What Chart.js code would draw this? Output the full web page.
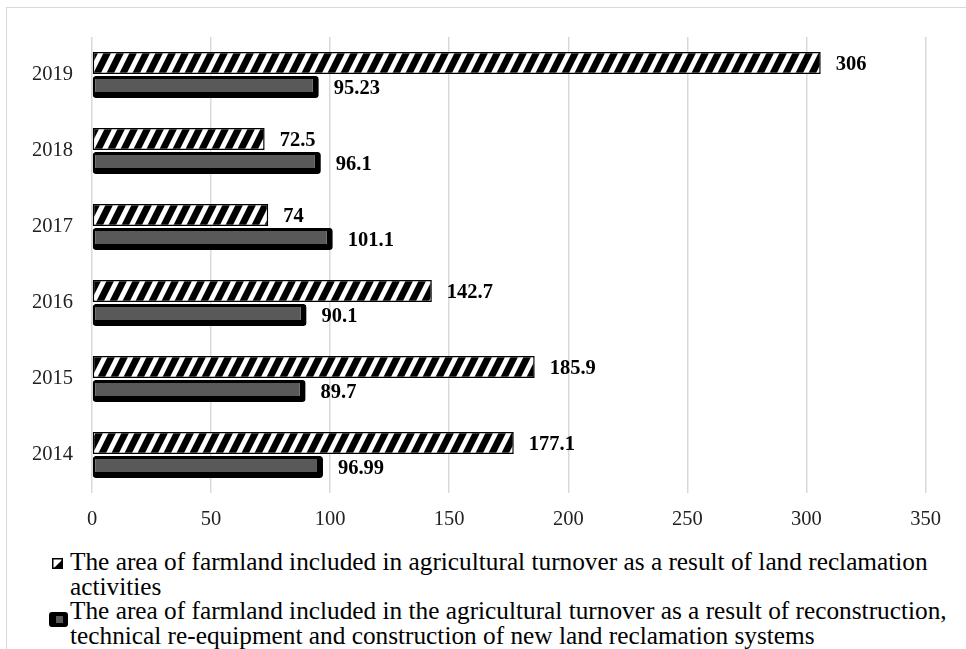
<!DOCTYPE html>
<html>
<head>
<meta charset="utf-8">
<script src="https://cdn.jsdelivr.net/npm/chart.js@4"></script>
<style>
  html, body { margin: 0; padding: 0; background: #fff; width: 966px; height: 649px; overflow: hidden; }
  #frame { position: absolute; left: 6px; top: 7px; width: 1000px; height: 700px; border: 1.5px solid #d9d9d9; box-sizing: border-box; }
  #wrap { position: absolute; left: 0; top: 0; width: 966px; height: 545px; }
  #legend { position: absolute; left: 0; top: 549px; width: 962px; font-family: "Liberation Serif", "Times New Roman", serif; font-size: 25.3px; line-height: 24.5px; color: #000; }
  .item { position: relative; padding-left: 70px; }
  .icon { position: absolute; }
  .dark-icon { background: #000; border-radius: 3px; }
  .dark-icon div { position: absolute; background: #595959; }
</style>
</head>
<body>
<div id="frame"></div>
<div id="wrap"><canvas id="chart" width="966" height="545"></canvas></div>
<div id="legend"></div>
<script>
// Years shown on the category axis, top to bottom
const years = ['2019', '2018', '2017', '2016', '2015', '2014'];
// Farmland brought into use by land reclamation activities
const reclamationArea = [306, 72.5, 74, 142.7, 185.9, 177.1];
// Farmland brought into use by reconstruction / re-equipment / new systems
const reconstructionArea = [95.23, 96.1, 101.1, 90.1, 89.7, 96.99];
// Value axis ticks
const axisTicks = [0, 50, 100, 150, 200, 250, 300, 350];
const seriesNames = [
  'The area of farmland included in agricultural turnover as a result of land reclamation activities',
  'The area of farmland included in the agricultural turnover as a result of reconstruction, technical re-equipment and construction of new land reclamation systems'
];

const SERIF = '"Liberation Serif", "Times New Roman", serif';
const canvas = document.getElementById('chart');
const ctx = canvas.getContext('2d');

// Diagonal black/white hatch fill
function makeHatchTile() {
  const w = 13, h = 26, sw = 7.5;
  const c = document.createElement('canvas');
  c.width = w; c.height = h;
  const g = c.getContext('2d');
  g.fillStyle = '#fff';
  g.fillRect(0, 0, w, h);
  g.fillStyle = '#000';
  for (let k = -1; k <= 1; k++) {
    const o = k * w;
    g.beginPath();
    g.moveTo(o, h);
    g.lineTo(o + sw, h);
    g.lineTo(o + sw + w, 0);
    g.lineTo(o + w, 0);
    g.closePath();
    g.fill();
  }
  return c;
}
const hatch = ctx.createPattern(makeHatchTile(), 'repeat');

// Bold value printed just past the end of each bar
const valueLabels = {
  id: 'valueLabels',
  afterDatasetsDraw(chart) {
    const c = chart.ctx;
    c.save();
    c.font = 'bold 20.5px ' + SERIF;
    c.fillStyle = '#000';
    c.textAlign = 'left';
    c.textBaseline = 'middle';
    chart.data.datasets.forEach((ds, i) => {
      chart.getDatasetMeta(i).data.forEach((el, j) => {
        c.fillText(String(ds.data[j]), el.x + 15, el.y + 1.5);
      });
    });
    c.restore();
  }
};

new Chart(ctx, {
  type: 'bar',
  data: {
    labels: years,
    datasets: [
      {
        label: seriesNames[0],
        data: reclamationArea,
        backgroundColor: hatch,
        borderColor: '#000',
        borderWidth: 1.5,
        borderSkipped: false,
        barPercentage: 0.92,
        categoryPercentage: 0.63
      },
      {
        label: seriesNames[1],
        data: reconstructionArea,
        backgroundColor: '#595959',
        borderColor: '#000',
        borderWidth: { top: 3, left: 2.5, right: 6, bottom: 6 },
        borderSkipped: false,
        borderRadius: 3,
        barPercentage: 0.92,
        categoryPercentage: 0.63
      }
    ]
  },
  options: {
    indexAxis: 'y',
    responsive: false,
    animation: false,
    layout: { padding: { top: 37, right: 40.5, left: 0, bottom: 0 } },
    plugins: { legend: { display: false }, tooltip: { enabled: false } },
    scales: {
      x: {
        min: axisTicks[0],
        max: axisTicks[axisTicks.length - 1],
        afterBuildTicks(scale) { scale.ticks = axisTicks.map(v => ({ value: v })); },
        ticks: { font: { family: SERIF, size: 20.5 }, color: '#222', padding: 14 },
        grid: { color: '#d9d9d9', lineWidth: 1.5, drawTicks: false },
        border: { display: false },
        afterFit(scale) { scale.height = 52; }
      },
      y: {
        ticks: { font: { family: SERIF, size: 20.5 }, color: '#222', padding: 19 },
        grid: { display: false, drawTicks: false },
        border: { display: false },
        afterFit(scale) { scale.width = 92; }
      }
    }
  },
  plugins: [valueLabels]
});

// Legend below the plot, wrapping long series names
const legend = document.getElementById('legend');
seriesNames.forEach((name, i) => {
  const item = document.createElement('div');
  item.className = 'item';
  if (i === 0) {
    const ic = document.createElement('canvas');
    ic.width = 11; ic.height = 11;
    ic.className = 'icon';
    ic.style.left = '52px'; ic.style.top = '9px';
    const g = ic.getContext('2d');
    g.fillStyle = '#fff'; g.fillRect(0, 0, 11, 11);
    g.fillStyle = '#000';
    g.beginPath(); g.moveTo(11, 1); g.lineTo(11, 11); g.lineTo(1, 11); g.closePath(); g.fill();
    g.strokeStyle = '#000'; g.lineWidth = 1.5; g.strokeRect(0.75, 0.75, 9.5, 9.5);
    item.appendChild(ic);
  } else {
    const ic = document.createElement('div');
    ic.className = 'icon dark-icon';
    ic.style.left = '49px'; ic.style.top = '14px';
    ic.style.width = '19px'; ic.style.height = '15px';
    const inner = document.createElement('div');
    inner.style.left = '7px'; inner.style.top = '4px';
    inner.style.width = '7px'; inner.style.height = '7px';
    ic.appendChild(inner);
    item.appendChild(ic);
  }
  const t = document.createElement('span');
  t.textContent = name;
  item.appendChild(t);
  legend.appendChild(item);
});
</script>
</body>
</html>
